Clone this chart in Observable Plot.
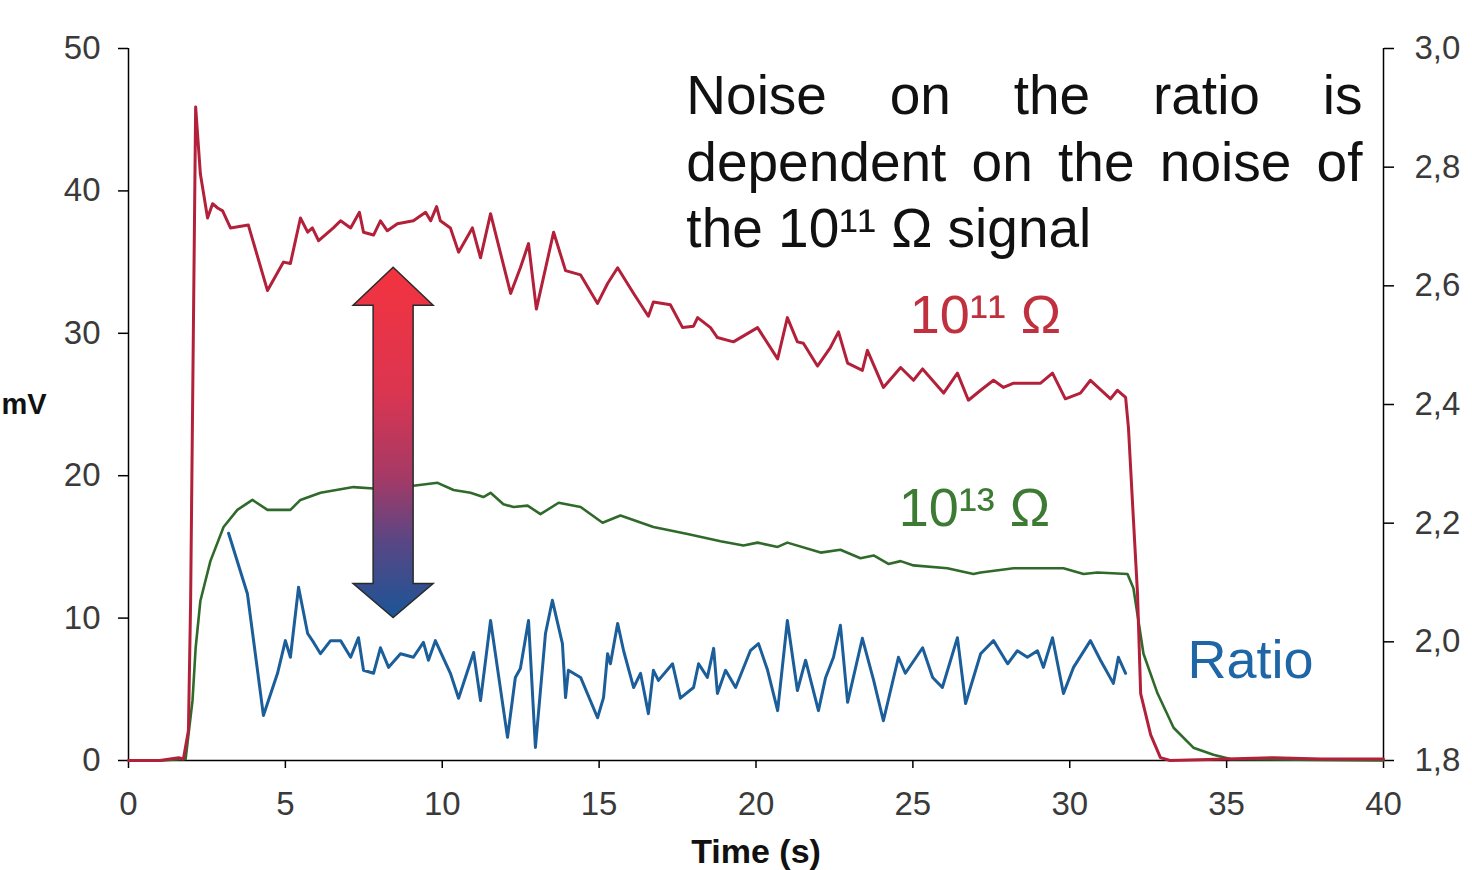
<!DOCTYPE html>
<html><head><meta charset="utf-8">
<script src="https://cdn.jsdelivr.net/npm/d3@7"></script>
<script src="https://cdn.jsdelivr.net/npm/@observablehq/plot@0.6"></script>
<style>body{margin:0;background:#fff;overflow:hidden} svg{display:block}</style>
</head><body><div id="chart"></div>
<script>
// ---- tick values ----
const xTicks = [0, 5, 10, 15, 20, 25, 30, 35, 40];
const mvTicks = [0, 10, 20, 30, 40, 50];
const ratioTicks = [1.8, 2.0, 2.2, 2.4, 2.6, 2.8, 3.0];
const ratioMin = 1.8, ratioMax = 3.0, mvMax = 50;
const toMV = r => (r - ratioMin) / (ratioMax - ratioMin) * mvMax;
const fromMV = v => ratioMin + v / mvMax * (ratioMax - ratioMin);

// ---- series: [time (s), mV] ----
const signal11 = [[0,0],[1.0,0],[1.6,0.2],[1.75,0.1],[1.91,2.1],[1.98,11.2],[2.14,45.9],[2.29,41.2],[2.52,38.1],[2.68,39.1],[2.84,38.8],[3.00,38.6],[3.25,37.4],[3.82,37.6],[4.43,33.0],[4.94,35.0],[5.16,34.9],[5.48,38.1],[5.71,37.1],[5.86,37.4],[6.06,36.5],[6.53,37.4],[6.76,37.9],[7.08,37.4],[7.36,38.5],[7.49,37.1],[7.81,36.9],[8.03,37.9],[8.25,37.2],[8.57,37.7],[9.08,37.9],[9.47,38.5],[9.63,37.9],[9.82,38.9],[9.94,37.9],[10.26,37.4],[10.52,35.7],[10.96,37.4],[11.22,35.3],[11.54,38.4],[12.18,32.8],[12.49,34.6],[12.75,36.3],[13.00,31.7],[13.55,37.1],[13.93,34.4],[14.41,34.1],[14.95,32.1],[15.27,33.5],[15.59,34.6],[16.10,32.8],[16.57,31.2],[16.73,32.2],[17.27,32.0],[17.66,30.4],[18.01,30.5],[18.14,31.1],[18.55,30.4],[18.77,29.7],[19.28,29.4],[20.05,30.4],[20.69,28.2],[21.00,31.1],[21.32,29.4],[21.51,29.3],[21.96,27.7],[22.37,29.0],[22.63,30.1],[22.92,27.9],[23.39,27.4],[23.55,28.8],[24.06,26.2],[24.61,27.6],[25.02,26.7],[25.31,27.5],[25.98,25.8],[26.42,27.2],[26.77,25.3],[27.16,26.0],[27.57,26.7],[27.89,26.2],[28.21,26.5],[29.07,26.5],[29.45,27.2],[29.86,25.4],[30.34,25.8],[30.66,26.7],[31.30,25.4],[31.52,26.0],[31.78,25.5],[31.87,23.4],[32.03,16.9],[32.16,11.7],[32.26,4.7],[32.58,1.8],[32.89,0.2],[33.2,0],[35.0,0.1],[36.5,0.2],[38.0,0.1],[40.0,0.1]];

const signal13 = [[0,0],[1.0,0],[1.82,0.1],[2.04,4.2],[2.14,7.9],[2.29,11.2],[2.61,14.0],[3.03,16.4],[3.47,17.6],[3.95,18.3],[4.43,17.6],[5.16,17.6],[5.48,18.3],[6.12,18.8],[7.17,19.2],[7.81,19.1],[9.08,19.3],[9.85,19.5],[10.36,19.0],[10.90,18.8],[11.31,18.5],[11.54,18.8],[11.95,18.0],[12.27,17.8],[12.72,17.9],[13.13,17.3],[13.71,18.1],[14.41,17.8],[15.11,16.7],[15.68,17.2],[16.73,16.4],[17.82,15.9],[18.87,15.4],[19.60,15.1],[20.05,15.3],[20.69,15.0],[21.00,15.3],[22.06,14.6],[22.69,14.8],[23.33,14.2],[23.75,14.4],[24.22,13.8],[24.61,14.0],[25.02,13.7],[26.10,13.5],[26.93,13.1],[27.16,13.2],[28.21,13.5],[29.80,13.5],[30.44,13.1],[30.88,13.2],[31.84,13.1],[32.03,12.1],[32.35,7.5],[32.80,4.7],[33.31,2.3],[33.94,0.9],[34.58,0.4],[35.12,0.1],[40,0]];

// ---- ratio series: [time (s), ratio] (right axis) ----
const ratio = [[3.19,2.183],[3.79,2.081],[4.30,1.876],[4.75,1.947],[5.00,2.002],[5.16,1.974],[5.42,2.092],[5.71,2.014],[5.90,1.999],[6.12,1.980],[6.44,2.002],[6.76,2.002],[7.08,1.974],[7.33,2.007],[7.49,1.952],[7.81,1.947],[8.03,1.990],[8.29,1.957],[8.67,1.980],[9.08,1.974],[9.40,1.999],[9.56,1.969],[9.78,2.002],[10.26,1.947],[10.52,1.905],[11.00,1.982],[11.22,1.901],[11.54,2.036],[12.08,1.839],[12.33,1.940],[12.49,1.955],[12.75,2.036],[12.97,1.822],[13.29,2.014],[13.51,2.070],[13.83,1.997],[13.93,1.906],[14.02,1.952],[14.41,1.940],[14.95,1.872],[15.14,1.906],[15.27,1.980],[15.36,1.963],[15.59,2.031],[15.78,1.985],[16.10,1.923],[16.32,1.947],[16.57,1.879],[16.73,1.952],[16.89,1.935],[17.34,1.963],[17.59,1.905],[18.01,1.923],[18.17,1.963],[18.45,1.940],[18.65,1.989],[18.77,1.913],[19.03,1.952],[19.35,1.923],[19.82,1.985],[20.08,1.997],[20.37,1.952],[20.69,1.884],[21.00,2.036],[21.32,1.918],[21.58,1.969],[21.99,1.884],[22.22,1.940],[22.47,1.974],[22.69,2.028],[22.92,1.898],[23.39,2.006],[23.75,1.935],[24.06,1.867],[24.54,1.974],[24.76,1.947],[25.31,1.990],[25.63,1.940],[25.94,1.923],[26.42,2.007],[26.68,1.896],[27.16,1.980],[27.57,2.002],[28.02,1.963],[28.33,1.985],[28.65,1.974],[28.97,1.985],[29.16,1.957],[29.45,2.007],[29.80,1.913],[30.12,1.957],[30.66,2.002],[30.98,1.969],[31.39,1.930],[31.55,1.974],[31.78,1.947]];

// ---- annotations ----
const noteLines = [
  {text: "Noise on the ratio is", y: 45.4, justify: true},
  {text: "dependent on the noise of", y: 40.7, justify: true},
  {text: "the 10\u00B9\u00B9 \u03A9 signal", y: 36.05, justify: false}
];
const noteLeft = 17.78, noteRight = 39.33;
const seriesLabels = [
  {text: "10\u00B9\u00B9 \u03A9", t: 24.9, v: 30.0, color: "#c0303f"},
  {text: "10\u00B9\u00B3 \u03A9", t: 24.55, v: 16.5, color: "#3d7a33"},
  {text: "Ratio", t: 33.75, v: 5.8, color: "#1f66a6"}
];
const arrowData = [{t: 8.45, top: 34.6, bottom: 10.0}];

const font = "'Liberation Sans', Arial, Helvetica, sans-serif";
const tickColor = "#3a3a3a";

const arrowMark = Plot.dot(arrowData, {
  x: "t", y: "top", r: 0,
  render: (index, scales) => {
    const d = arrowData[0];
    const cx = scales.x(d.t), y1 = scales.y(d.top), y2 = scales.y(d.bottom);
    const hw = 40, sw = 20, hlTop = 38, hlBot = 34;
    const g = d3.create("svg:g");
    const grad = g.append("defs").append("linearGradient")
      .attr("id", "arrowGrad").attr("gradientUnits", "userSpaceOnUse")
      .attr("x1", cx).attr("x2", cx).attr("y1", y1).attr("y2", y2);
    [[0, "#f3333f"], [0.35, "#dc3550"], [0.6, "#a53a66"], [0.78, "#5a4684"], [1, "#1b5597"]]
      .forEach(([o, c]) => grad.append("stop").attr("offset", o).attr("stop-color", c));
    const p = [
      [cx, y1], [cx + hw, y1 + hlTop], [cx + sw, y1 + hlTop], [cx + sw, y2 - hlBot],
      [cx + hw, y2 - hlBot], [cx, y2], [cx - hw, y2 - hlBot], [cx - sw, y2 - hlBot],
      [cx - sw, y1 + hlTop], [cx - hw, y1 + hlTop]
    ];
    g.append("path").attr("d", "M" + p.map(q => q.join(",")).join("L") + "Z")
      .attr("fill", "url(#arrowGrad)").attr("stroke", "#2a2a2a").attr("stroke-width", 1.5)
      .attr("stroke-linejoin", "miter");
    return g.node();
  }
});

const chart = Plot.plot({
  width: 1472, height: 870,
  marginLeft: 128, marginRight: 89, marginTop: 48, marginBottom: 110,
  x: {domain: [0, 40]},
  y: {domain: [0, 50]},
  style: {fontFamily: font, background: "white", overflow: "visible"},
  marks: [
    Plot.axisX({ticks: xTicks, tickSize: 8, tickPadding: 23, fontSize: 33, label: null,
      stroke: "black", fill: tickColor, strokeWidth: 1.5}),
    Plot.axisY({ticks: mvTicks, tickSize: 10, tickPadding: 18, fontSize: 33, label: null,
      stroke: "black", fill: tickColor, strokeWidth: 1.5}),
    Plot.axisY({anchor: "right", ticks: ratioTicks.map(toMV), tickSize: 10, tickPadding: 21, fontSize: 33,
      label: null, stroke: "black", fill: tickColor, strokeWidth: 1.5,
      tickFormat: v => fromMV(v).toFixed(1).replace(".", ",")}),
    Plot.ruleX([0, 40], {y1: 0, y2: 50, stroke: "black", strokeWidth: 1.5}),
    Plot.ruleY([0], {stroke: "black", strokeWidth: 1.5}),
    Plot.line(signal13, {x: d => d[0], y: d => d[1], stroke: "#2f6a2a", strokeWidth: 2.6, curve: "linear"}),
    Plot.line(signal11, {x: d => d[0], y: d => d[1], stroke: "#b3203a", strokeWidth: 3, curve: "linear"}),
    Plot.line(ratio, {x: d => d[0], y: d => toMV(d[1]), stroke: "#1b5e9a", strokeWidth: 3, curve: "linear"}),
    arrowMark,
    Plot.text(noteLines, {x: () => noteLeft, y: "y", text: "text", textAnchor: "start", lineAnchor: "bottom",
      fontSize: 55, fill: "#111"}),
    Plot.text(seriesLabels, {x: "t", y: "v", text: "text", fill: d => d.color, textAnchor: "start",
      lineAnchor: "bottom", fontSize: 54}),
    Plot.text(["Time (s)"], {frameAnchor: "bottom", dy: 92, lineAnchor: "middle", fontSize: 34,
      fontWeight: "bold", fill: "#111"}),
    Plot.text(["mV"], {frameAnchor: "left", dx: -127, textAnchor: "start", lineAnchor: "middle",
      fontSize: 29, fontWeight: "bold", fill: "#111"})
  ]
});

document.getElementById("chart").append(chart);

// justify the first two annotation lines
const xs = chart.scale("x");
const targetW = xs.apply(noteRight) - xs.apply(noteLeft);
chart.querySelectorAll("text").forEach(el => {
  const line = noteLines.find(l => l.justify && l.text === el.textContent);
  if (!line) return;
  const natural = el.getComputedTextLength();
  const gaps = line.text.split(" ").length - 1;
  el.style.wordSpacing = ((targetW - natural) / gaps) + "px";
});
</script>
</body></html>
